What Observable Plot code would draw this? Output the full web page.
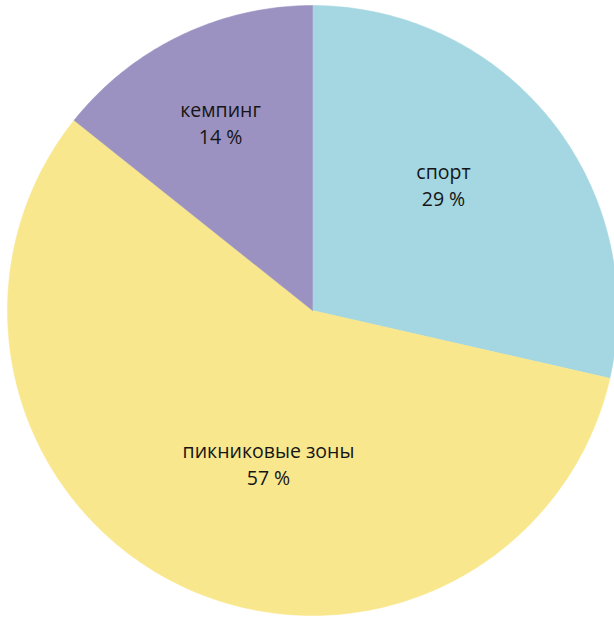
<!DOCTYPE html>
<html>
<head>
<meta charset="utf-8">
<script src="https://cdn.jsdelivr.net/npm/d3@7"></script>
<script src="https://cdn.jsdelivr.net/npm/@observablehq/plot@0.6"></script>
<style>
html,body{margin:0;padding:0;background:#fff;}
#chart svg{display:block;}
</style>
</head>
<body>
<div id="chart"></div>
<script>
const categories = ["спорт", "пикниковые зоны", "кемпинг"];
const values = [2, 4, 1];            // shares 2/7, 4/7, 1/7
const labels = ["29 %", "57 %", "14 %"];
const colors = ["#a4d7e1", "#f9e78d", "#9b92c1"];

const W = 614, H = 618;
const cx = 312, cy = 310, R = 305;

const pie = d3.pie().sort(null).value(d => d.value);
const arcs = pie(categories.map((name, i) => ({name, value: values[i], label: labels[i]})));

// polygon points in unit-circle coordinates (angle clockwise from top)
const pts = [];
for (const a of arcs) {
  const n = Math.max(4, Math.ceil((a.endAngle - a.startAngle) * 90));
  pts.push({name: a.data.name, x: 0, y: 0});
  for (let k = 0; k <= n; k++) {
    const t = a.startAngle + (a.endAngle - a.startAngle) * k / n;
    pts.push({name: a.data.name, x: Math.sin(t), y: Math.cos(t)});
  }
  pts.push({name: a.data.name, x: 0, y: 0});
}

// label placement: radial factor and angular nudge per slice (styling)
const labelR = [0.592, 0.528, 0.682];
const labelNudge = [-0.086, -0.172, -0.009];
const textData = arcs.map((a, i) => {
  const m = (a.startAngle + a.endAngle) / 2 + labelNudge[i];
  return {name: a.data.name, label: a.data.label, x: labelR[i] * Math.sin(m), y: labelR[i] * Math.cos(m)};
});

const textStyle = {x: "x", y: "y", fontSize: 19.5, fill: "#151515", fontFamily: "Open Sans", textAnchor: "middle"};

const chart = Plot.plot({
  width: W, height: H,
  margin: 0,
  x: {domain: [-cx / R, (W - cx) / R], axis: null},
  y: {domain: [-(H - cy) / R, cy / R], axis: null},
  color: {domain: categories, range: colors},
  style: {background: "#fff"},
  marks: [
    Plot.line(pts, {x: "x", y: "y", z: "name", fill: "name", stroke: "name", strokeWidth: 0.5, curve: "linear"}),
    Plot.text(textData, {...textStyle, text: "name", dy: -13.5}),
    Plot.text(textData, {...textStyle, text: "label", dy: 13.5})
  ]
});
document.getElementById("chart").appendChild(chart);
</script>
</body>
</html>
